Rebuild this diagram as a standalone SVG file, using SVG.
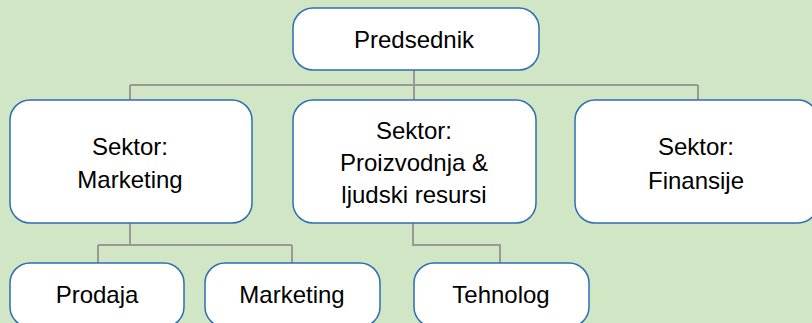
<svg xmlns="http://www.w3.org/2000/svg" width="812" height="323" viewBox="0 0 812 323">
<style>
.box{fill:#fff;stroke:#2e6db4;stroke-width:1.5}
.t{font-family:"Liberation Sans",Arial,sans-serif;font-size:24px;fill:#000;text-anchor:middle}
.c{fill:none;stroke:#999;stroke-width:2}
</style>
<rect width="812" height="323" fill="#d0e6c5"/>
<g id="connectors">
<path class="c" d="M414 70V100M130 85H698M130 85V100M698 85V100"/>
<path class="c" d="M130 223V245M98 245H292M98 245V263M292 245V263"/>
<path class="c" d="M413 223V245H500V263"/>
</g>
<g id="n-predsednik"><rect class="box" x="293" y="8" width="246" height="62" rx="20"/><text class="t" x="414" y="48">Predsednik</text></g>
<g id="n-marketing"><rect class="box" x="10" y="100" width="242" height="123" rx="20"/><text class="t" x="130" y="155">Sektor:</text><text class="t" x="130" y="188">Marketing</text></g>
<g id="n-proizvodnja"><rect class="box" x="293" y="100" width="243" height="123" rx="20"/><text class="t" x="414" y="139">Sektor:</text><text class="t" x="414" y="171">Proizvodnja &amp;</text><text class="t" x="414" y="203">ljudski resursi</text></g>
<g id="n-finansije"><rect class="box" x="575" y="100" width="243" height="123" rx="20"/><text class="t" x="696" y="155">Sektor:</text><text class="t" x="696" y="189">Finansije</text></g>
<g id="n-prodaja"><rect class="box" x="10" y="263" width="174" height="64" rx="20"/><text class="t" x="97" y="303">Prodaja</text></g>
<g id="n-marketing2"><rect class="box" x="205" y="263" width="175" height="64" rx="20"/><text class="t" x="292" y="303">Marketing</text></g>
<g id="n-tehnolog"><rect class="box" x="414" y="263" width="175" height="64" rx="20"/><text class="t" x="501" y="303">Tehnolog</text></g>
</svg>
